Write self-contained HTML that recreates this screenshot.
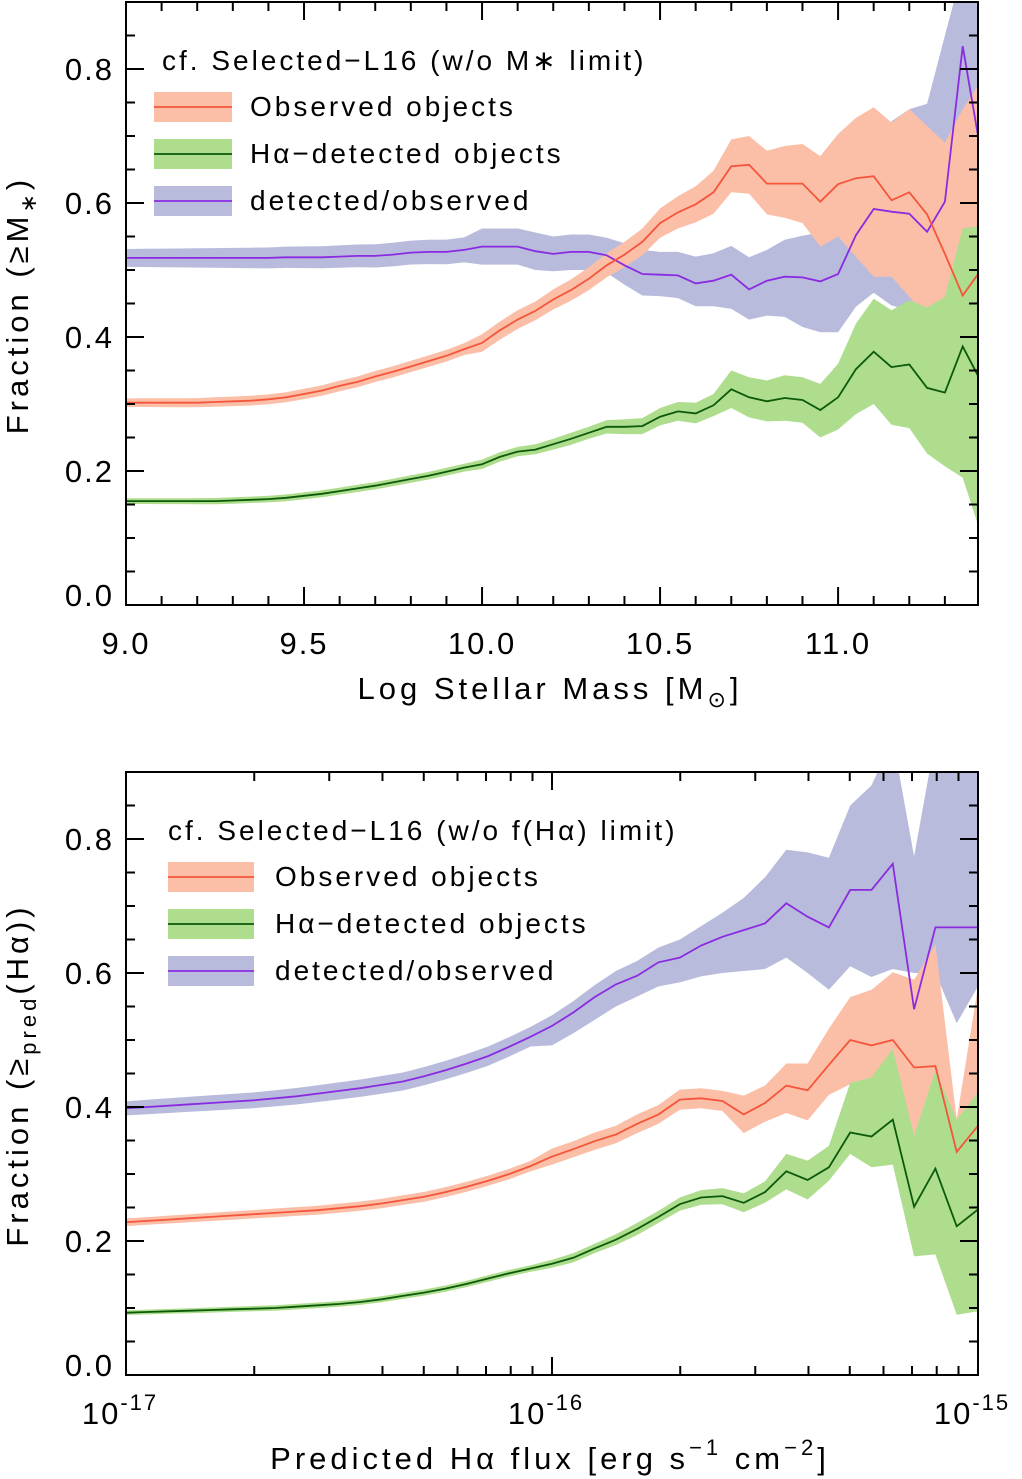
<!DOCTYPE html>
<html><head><meta charset="utf-8"><style>
html,body{margin:0;padding:0;background:#fff}
svg{display:block;font-family:"Liberation Sans",sans-serif}
</style></head><body>
<svg id="fig" width="1022" height="1479" viewBox="0 0 1022 1479" xmlns="http://www.w3.org/2000/svg"></svg>
<script>
// ---------- TOP PANEL DATA (log stellar mass, step 0.05 from 9.0) ----------
const massStart = 9.0, massStep = 0.05;
const obsMass = [.302,.302,.302,.302,.302,.303,.304,.305,.307,.31,.315,.32,.327,.333,.341,.348,.356,.364,.372,.382,
 .391,.410,.426,.439,.456,.470,.487,.507,.523,.542,.570,.586,.598,.616,.655,.657,.629,.629,.629,.602,.628,.637,.640,.604,.616,.583,.524,.462,.499];
const obsMassHiTail = [.404,.423,.440,.453,.471,.486,.504,.525,.542,.562,.592,.610,.625,.648,.695,.700,.678,.685,.688,.670,.703,.727,.743,.72,.74,.715,.69,.74,.78];
const obsMassLoTail = [.378,.396,.412,.425,.441,.454,.470,.489,.504,.522,.548,.562,.571,.584,.616,.614,.583,.578,.57,.535,.55,.52,.49,.49,.46,.428,.44,.42,.45];
const detMass = [.155,.155,.155,.155,.155,.155,.156,.157,.158,.16,.163,.166,.17,.174,.178,.183,.188,.193,.199,.205,
 .210,.221,.229,.232,.240,.248,.257,.266,.266,.267,.281,.289,.286,.298,.322,.310,.304,.309,.306,.291,.310,.352,.378,.355,.359,.324,.317,.386,.335];
const detMassHiTail = [.217,.228,.236,.24,.248,.257,.266,.276,.277,.279,.294,.303,.302,.315,.35,.34,.335,.343,.34,.33,.36,.42,.457,.44,.455,.444,.46,.562,.566];
const detMassLoTail = [.203,.214,.222,.225,.232,.239,.248,.256,.255,.255,.268,.275,.271,.282,.294,.28,.274,.275,.272,.25,.262,.285,.30,.269,.264,.226,.207,.19,.108];
const ratMass = [.518,.518,.518,.518,.518,.518,.518,.518,.518,.519,.519,.519,.52,.521,.521,.523,.526,.527,.527,.53,
 .535,.535,.535,.528,.524,.527,.527,.522,.507,.494,.493,.492,.480,.484,.493,.471,.484,.490,.489,.483,.494,.552,.591,.587,.584,.557,.602,.834,.679];
const ratMassHiTail = [.562,.562,.562,.556,.55,.553,.553,.548,.54,.53,.527,.527,.52,.525,.536,.519,.53,.545,.551,.556,.552,.6,.68,.722,.74,.748,.85,.95,.95];
const ratMassLoTail = [.508,.508,.508,.5,.498,.50,.50,.496,.478,.462,.461,.458,.446,.446,.442,.426,.432,.43,.415,.407,.407,.445,.466,.447,.44,.43,.52,.655,.6];
const massEarlyErr = {obs:.009, det:.006, rat:.019};
const massTicks = [9.0,9.5,10.0,10.5,11.0];
const massTickLabels = ["9.0","9.5","10.0","10.5","11.0"];
const fracTicks = [0,0.2,0.4,0.6,0.8];
const fracTickLabels = ["0.0","0.2","0.4","0.6","0.8"];

// ---------- BOTTOM PANEL DATA (log flux, step 0.05 from -17) ----------
const fluxStart = -17, fluxStep = 0.05;
const obsFlux = [.228,.230,.232,.234,.236,.238,.240,.242,.244,.246,.249,.252,.256,.261,.266,.273,.281,.290,.300,.312,
 .326,.337,.349,.359,.375,.389,.411,.413,.409,.389,.406,.432,.425,.463,.500,.492,.500,.459,.461,.333,.372];
const obsFluxHiTail = [.338,.349,.362,.372,.389,.403,.426,.428,.424,.417,.432,.465,.465,.517,.564,.575,.601,.59,.643,.382,.58];
const obsFluxLoTail = [.314,.325,.336,.346,.361,.375,.396,.398,.394,.361,.378,.391,.38,.418,.434,.441,.46,.357,.42,.30,.42];
const detFlux = [.093,.094,.095,.096,.097,.098,.099,.100,.102,.104,.106,.109,.113,.118,.123,.129,.136,.144,.152,.159,
 .166,.175,.189,.202,.218,.236,.255,.265,.267,.257,.273,.304,.291,.310,.362,.356,.381,.251,.308,.222,.247];
const detFluxHiTail = [.172,.182,.196,.21,.227,.245,.265,.276,.279,.271,.289,.33,.32,.342,.436,.444,.487,.357,.455,.381,.422];
const detFluxLoTail = [.160,.168,.182,.194,.209,.227,.245,.254,.255,.243,.257,.277,.262,.29,.33,.31,.314,.177,.18,.09,.095];
const ratFlux = [.398,.400,.402,.404,.406,.408,.410,.413,.416,.420,.424,.428,.433,.438,.446,.455,.465,.476,.490,.505,
 .521,.541,.564,.583,.596,.616,.623,.641,.654,.664,.674,.704,.684,.668,.724,.724,.763,.546,.668,.668,.668];
const ratFluxHiTail = [.537,.558,.582,.603,.618,.638,.65,.67,.69,.712,.743,.784,.78,.772,.85,.88,.95,.774,.95,.95,.95];
const ratFluxLoTail = [.492,.51,.53,.55,.565,.58,.586,.595,.60,.603,.606,.623,.60,.575,.61,.594,.606,.6,.6,.525,.58];
const fluxEarlyErr = {obs:.008, det:.005, rat:.015};
const fluxDecades = [-17,-16,-15];
const fluxDecadeExp = ["-17","-16","-15"];

const NS = "http://www.w3.org/2000/svg";
const svgRoot = document.getElementById("fig");
function mk(tag, attrs, parent){ const e=document.createElementNS(NS,tag); for(const k in attrs) e.setAttribute(k,attrs[k]); (parent||svgRoot).appendChild(e); return e; }

function buildBand(vals, hiTail, loTail, err){
  const n=vals.length, off=n-hiTail.length, hi=[], lo=[];
  for(let i=0;i<n;i++){
    if(i<off){ hi.push(vals[i]+err*(0.7+0.3*i/off)); lo.push(vals[i]-err*(0.7+0.3*i/off)); }
    else { hi.push(hiTail[i-off]); lo.push(loTail[i-off]); }
  }
  return {hi,lo};
}

function panel(cfg){
  const {L,R,T,B,xmin,xmax,ymin,ymax,start,step,series,id}=cfg;
  const sx=v=>L+(v-xmin)/(xmax-xmin)*(R-L);
  const sy=v=>B-(v-ymin)/(ymax-ymin)*(B-T);
  const clipId="clip-"+id;
  const defs=mk("defs",{});
  const cp=mk("clipPath",{id:clipId},defs);
  mk("rect",{x:L,y:T,width:R-L,height:B-T},cp);
  const g=mk("g",{"clip-path":"url(#"+clipId+")"});
  
  
  series.forEach(s=>{
    const b=buildBand(s.vals,s.hi,s.lo,s.err);
    let d="";
    b.hi.forEach((v,i)=>{d+=(i?"L":"M")+sx(start+i*step).toFixed(1)+","+sy(v).toFixed(1);});
    for(let i=b.lo.length-1;i>=0;i--) d+="L"+sx(start+i*step).toFixed(1)+","+sy(b.lo[i]).toFixed(1);
    const p=mk("path",{d:d+"Z",fill:s.band,stroke:"none"},g);
    
    
  });
  series.forEach(s=>{
    const pts=s.vals.map((v,i)=>sx(start+i*step).toFixed(1)+","+sy(v).toFixed(1)).join(" ");
    const pl=mk("polyline",{points:pts,fill:"none",stroke:s.line,"stroke-width":1.8},g);
    
    
  });
  const fr=mk("rect",{x:L,y:T,width:R-L,height:B-T,fill:"none",stroke:"#000","stroke-width":2});
  
  
  for(let k=0; k*0.05<=ymax+1e-9; k++){
    const v=k*0.05, major=(k%4===0);
    const len=major?18:9, y=sy(v);
    mk("line",{x1:L,x2:L+len,y1:y,y2:y,stroke:"#000","stroke-width":2});
    mk("line",{x1:R,x2:R-len,y1:y,y2:y,stroke:"#000","stroke-width":2});
  }
  fracTicks.forEach((v,i)=>{
    const t=mk("text",{x:L-12,y:sy(v)+11-(v===0?10:0),"text-anchor":"end","font-size":31,"letter-spacing":2});
    t.textContent=fracTickLabels[i];
    
    
  });
  return {sx,sy};
}

const topP=panel({id:"mass-panel",L:126,R:978,T:2,B:605,xmin:9.0,xmax:11.393,ymin:0,ymax:0.9,start:massStart,step:massStep,
 series:[
  {name:"ratio-mass",vals:ratMass,hi:ratMassHiTail,lo:ratMassLoTail,err:massEarlyErr.rat,band:"#b9bbdc",line:"#8a2be2"},
  {name:"observed-mass",vals:obsMass,hi:obsMassHiTail,lo:obsMassLoTail,err:massEarlyErr.obs,band:"#fbbfa7",line:"#f5553a"},
  {name:"detected-mass",vals:detMass,hi:detMassHiTail,lo:detMassLoTail,err:massEarlyErr.det,band:"#aedd8e",line:"#0a5a0a"}
 ]});
for(let k=0;k<=23;k++){
  const m=9.0+k*0.1, major=(k%5===0), len=major?18:9, x=topP.sx(m);
  mk("line",{x1:x,x2:x,y1:605,y2:605-len,stroke:"#000","stroke-width":2});
  mk("line",{x1:x,x2:x,y1:2,y2:2+len,stroke:"#000","stroke-width":2});
}
massTicks.forEach((m,i)=>{
  const t=mk("text",{x:topP.sx(m),y:654,"text-anchor":"middle","font-size":31,"letter-spacing":2});
  t.textContent=massTickLabels[i];
  
  
});

const botP=panel({id:"flux-panel",L:126,R:978,T:772,B:1375,xmin:-17,xmax:-15,ymin:0,ymax:0.9,start:fluxStart,step:fluxStep,
 series:[
  {name:"ratio-flux",vals:ratFlux,hi:ratFluxHiTail,lo:ratFluxLoTail,err:fluxEarlyErr.rat,band:"#b9bbdc",line:"#8a2be2"},
  {name:"observed-flux",vals:obsFlux,hi:obsFluxHiTail,lo:obsFluxLoTail,err:fluxEarlyErr.obs,band:"#fbbfa7",line:"#f5553a"},
  {name:"detected-flux",vals:detFlux,hi:detFluxHiTail,lo:detFluxLoTail,err:fluxEarlyErr.det,band:"#aedd8e",line:"#0a5a0a"}
 ]});
[-17,-16].forEach(d=>{
  for(let k=1;k<=10;k++){
    const v=d+Math.log10(k), major=(k===1||k===10), len=major?18:9, x=botP.sx(v);
    mk("line",{x1:x,x2:x,y1:1375,y2:1375-len,stroke:"#000","stroke-width":2});
    mk("line",{x1:x,x2:x,y1:772,y2:772+len,stroke:"#000","stroke-width":2});
  }
});
fluxDecades.forEach((d,i)=>{
  const t=mk("text",{x:botP.sx(d)-6,y:1424,"text-anchor":"middle","font-size":31,"letter-spacing":2});
  
  
  t.appendChild(document.createTextNode("10"));
  const s=mk("tspan",{dy:-14,"font-size":22},t); s.textContent=fluxDecadeExp[i];
});
</script>

<svg width="1022" height="1479" style="position:absolute;left:0;top:0" xmlns="http://www.w3.org/2000/svg" font-family="Liberation Sans, sans-serif">
  <g font-size="28" letter-spacing="3">
    <text x="162" y="70">cf. Selected−L16 (w/o M∗ limit)</text>
    <rect x="154" y="92" width="78" height="30" fill="#fbbfa7"/>
    <line x1="154" x2="232" y1="107" y2="107" stroke="#f5553a" stroke-width="1.8"/>
    <text x="250" y="116">Observed objects</text>
    <rect x="154" y="139" width="78" height="30" fill="#aedd8e"/>
    <line x1="154" x2="232" y1="154" y2="154" stroke="#0a5a0a" stroke-width="1.8"/>
    <text x="250" y="163">Hα−detected objects</text>
    <rect x="154" y="186" width="78" height="30" fill="#b9bbdc"/>
    <line x1="154" x2="232" y1="201" y2="201" stroke="#8a2be2" stroke-width="1.8"/>
    <text x="250" y="210">detected/observed</text>
  </g>
  <text x="550" y="699" text-anchor="middle" font-size="31" letter-spacing="4">Log Stellar Mass [M<tspan font-size="22" dy="8">⊙</tspan><tspan dy="-8">]</tspan></text>
  <text transform="translate(28,305) rotate(-90)" text-anchor="middle" font-size="31" letter-spacing="4">Fraction (≥M<tspan font-size="22" dy="8">∗</tspan><tspan dy="-8">)</tspan></text>

  <g font-size="28" letter-spacing="3">
    <text x="168" y="840">cf. Selected−L16 (w/o f(Hα) limit)</text>
    <rect x="168" y="862" width="86" height="30" fill="#fbbfa7"/>
    <line x1="168" x2="254" y1="877" y2="877" stroke="#f5553a" stroke-width="1.8"/>
    <text x="275" y="886">Observed objects</text>
    <rect x="168" y="909" width="86" height="30" fill="#aedd8e"/>
    <line x1="168" x2="254" y1="924" y2="924" stroke="#0a5a0a" stroke-width="1.8"/>
    <text x="275" y="933">Hα−detected objects</text>
    <rect x="168" y="956" width="86" height="30" fill="#b9bbdc"/>
    <line x1="168" x2="254" y1="971" y2="971" stroke="#8a2be2" stroke-width="1.8"/>
    <text x="275" y="980">detected/observed</text>
  </g>
  <text x="550" y="1469" text-anchor="middle" font-size="31" letter-spacing="4">Predicted Hα flux [erg s<tspan font-size="22" dy="-14">−1</tspan><tspan dy="14"> cm</tspan><tspan font-size="22" dy="-14">−2</tspan><tspan dy="14">]</tspan></text>
  <text transform="translate(28,1075) rotate(-90)" text-anchor="middle" font-size="31" letter-spacing="4">Fraction (≥<tspan font-size="22" dy="8">pred</tspan><tspan dy="-8">(Hα))</tspan></text>
</svg>
</body></html>
